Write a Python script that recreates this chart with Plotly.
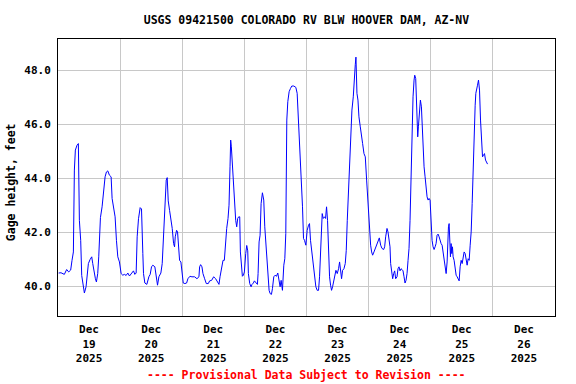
import pandas as pd
import plotly.graph_objects as go

TITLE = "USGS 09421500 COLORADO RV BLW HOOVER DAM, AZ-NV"
Y_TITLE = "Gage height, feet"
FOOTER = "---- Provisional Data Subject to Revision ----"
START = "2025-12-19 00:00"
END = "2025-12-27 00:00"

# hours since 2025-12-19 00:00 (MST)
hours = [
    0.25, 1.16, 2.45, 3.35, 4.13, 4.9, 5.42, 5.94, 6.32, 6.71, 7.35, 7.87, 8.26, 8.77, 9.16,
    9.81, 10.19, 10.84, 11.35, 11.74, 12.39, 13.03, 13.42, 13.94, 14.45, 14.84, 15.35, 15.74,
    16.39, 17.03, 17.55, 18.19, 18.71, 19.23, 19.87, 20.52, 20.9, 21.42, 22.06, 22.58, 23.1,
    23.74, 24.39, 25.03, 25.68, 26.32, 26.97, 27.61, 28.39, 29.16, 29.68, 30.19, 30.58, 31.1,
    31.74, 32.26, 32.77, 33.03, 33.55, 34.32, 35.1, 35.61, 36.13, 36.64, 37.42, 37.94, 38.45,
    38.97, 39.74, 40.26, 40.77, 41.29, 41.81, 42.19, 42.58, 43.1, 43.61, 44.13, 44.65, 45.03,
    45.29, 45.81, 46.19, 46.58, 46.97, 47.48, 47.87, 48.39, 49.03, 49.68, 50.19, 50.97, 51.74,
    52.77, 53.68, 54.45, 54.71, 55.1, 55.61, 56.0, 56.65, 57.29, 58.06, 58.58, 59.35, 60.13,
    60.9, 61.68, 62.19,
    62.59, 63.23, 63.75, 64.26, 64.65, 65.17, 65.68, 66.07, 66.46, 66.71, 66.97, 67.23, 67.62,
    68.13, 68.65, 69.04, 69.42, 69.81, 70.2, 70.46, 70.84, 71.23, 71.62, 72.0, 72.52, 72.91,
    73.3, 73.55, 74.07, 74.59, 74.97, 75.49, 75.88, 76.39, 77.04, 77.3, 77.68, 78.07, 78.46,
    78.97, 79.49, 79.88, 80.26, 80.78, 81.17, 81.55, 81.94, 82.46, 82.84, 83.36, 83.88, 84.39,
    84.91, 85.42, 85.81, 86.2, 86.71, 87.23, 87.62, 88.0, 88.39, 88.78, 89.29, 89.81, 90.33,
    91.1, 91.88, 92.39, 92.91, 93.42, 93.94, 94.46, 94.84, 95.23, 95.75, 96.26, 96.78, 97.16,
    97.55, 98.07, 98.58, 99.1, 99.62, 100.13, 100.65, 101.04, 101.42, 101.68, 102.07, 102.46,
    102.97, 103.36, 103.75, 104.13, 104.52, 104.91, 105.3, 105.68, 106.07, 106.46, 106.84,
    107.36, 107.88, 108.39, 108.78, 109.17, 109.55, 109.94, 110.46, 110.97, 111.36, 111.75,
    112.26, 112.78, 113.17, 113.55, 114.07, 114.46, 114.84, 115.1, 115.3, 115.49, 115.88,
    116.26, 116.78, 117.17, 117.68, 118.2, 118.71, 119.23, 119.62, 120.0, 120.39, 120.78,
    121.16, 121.55, 122.07, 122.59, 123.1, 123.62, 124.13, 124.65,
    125.16, 125.81, 126.19, 126.58, 127.1, 127.48, 127.87, 128.26, 128.51, 128.9, 129.29,
    129.68, 130.06, 130.45, 130.97, 131.35, 131.74, 132.13, 132.52, 132.9, 133.29, 133.68,
    134.06, 134.45, 134.84, 135.23, 135.61, 136.0, 136.39, 136.64, 136.9, 137.16, 137.55,
    137.81, 138.19, 138.45, 138.71, 138.97, 139.23, 139.61, 140.0, 140.39, 140.64, 141.03,
    141.42, 141.81, 142.19, 142.58, 142.97, 143.35, 143.74, 144.13, 144.51, 144.9, 145.29,
    145.68, 146.06, 146.45, 146.84, 147.23, 147.61, 148.0, 148.39, 148.77, 149.16, 149.55,
    149.94, 150.32, 150.58, 150.84, 151.1, 151.35, 151.61, 151.87, 152.13, 152.39, 152.64,
    153.03, 153.42, 153.81, 154.19, 154.58, 154.97, 155.35, 155.74, 156.13, 156.52, 156.9,
    157.29, 157.68, 158.06, 158.45, 158.84, 159.23, 159.61, 160.0, 160.39, 160.64, 160.9,
    161.16, 161.42, 161.68, 162.06, 162.45, 162.84, 163.23, 163.61, 164.0, 164.39, 164.77,
    165.16, 165.55, 165.94,
]

gage_ft = [
    40.49, 40.5, 40.44, 40.62, 40.53, 40.6, 40.96, 41.27, 44.3, 45.04, 45.22, 45.28, 42.44, 41.7, 40.4,
    40.04, 39.75, 39.98, 40.35, 40.84, 40.99, 41.09, 40.84, 40.47, 40.28, 40.16, 40.47, 41.09,
    42.54, 42.94, 43.56, 44.05, 44.23, 44.27, 44.11, 44.05, 43.25, 42.94, 42.57, 41.7, 41.09,
    40.9, 40.47, 40.41, 40.44, 40.4, 40.49, 40.38, 40.49, 40.57, 40.44, 40.49, 41.83, 42.5,
    42.91, 42.86, 41.21, 40.47, 40.12, 40.07, 40.35, 40.44, 40.72, 40.78, 40.72, 40.35, 40.04,
    40.35, 40.49, 40.84, 41.83, 43.06, 43.93, 44.02, 43.16, 42.81, 42.5, 42.14, 41.58, 41.46,
    41.83, 42.07, 42.01, 41.21, 40.96, 40.9, 40.62, 40.12, 40.1, 40.12, 40.28, 40.37, 40.35,
    40.35, 40.28, 40.35, 40.72, 40.8, 40.72, 40.47, 40.28, 40.1, 40.1, 40.2, 40.22, 40.35,
    40.28, 40.16, 40.07,
    40.35, 40.72, 40.96, 40.96, 41.7, 42.14, 42.51, 43.0, 44.42, 45.41, 45.16, 44.67, 44.05,
    43.19, 42.44, 42.2, 42.51, 42.57, 42.57, 41.27, 40.72, 40.37, 40.41, 40.53, 41.21, 41.51,
    41.31, 40.47, 40.1, 39.98, 40.07, 40.12, 40.2, 40.12, 40.07, 40.47, 41.64, 41.89, 43.06,
    43.46, 43.19, 42.2, 41.64, 40.96, 40.22, 39.85, 39.73, 39.7, 39.91, 40.35, 40.41, 40.37,
    40.49, 40.2, 39.98, 40.22, 39.85, 40.78, 41.02, 41.95, 46.15, 46.83, 47.2, 47.32, 47.41,
    47.41, 47.36, 47.14, 46.15, 45.16, 43.68, 42.94, 41.77, 41.7, 41.52, 42.07, 42.26, 42.32,
    41.7, 41.21, 40.72, 40.28, 39.98, 39.85, 39.85, 40.35, 41.21, 42.32, 42.69, 42.51,
    42.57, 42.51, 42.94, 42.44, 40.96, 40.35, 40.04, 39.85, 39.98, 40.16, 40.35,
    40.59, 40.47, 40.65, 40.9, 40.47, 40.28, 40.59, 40.65, 40.84, 41.33, 42.44,
    43.8, 45.16, 45.65, 46.52, 47.01, 47.88, 48.2, 48.48, 47.9, 47.14, 46.89,
    46.27, 45.9, 45.53, 45.28, 44.91, 44.79, 43.93, 43.19, 42.69, 41.95, 41.52,
    41.27, 41.15, 41.27, 41.4, 41.52, 41.7, 41.79, 41.52,
    41.4, 41.36, 41.46, 41.83, 42.14, 42.01, 41.7, 41.46, 40.84, 40.53, 40.28,
    40.47, 40.57, 40.28, 40.35, 40.65, 40.72, 40.57, 40.65, 40.62, 40.57, 40.35,
    40.12, 40.22, 40.47, 40.96, 41.4, 42.44, 44.3, 45.41, 46.02, 47.01, 47.63,
    47.81, 47.69, 46.77, 45.72, 45.53, 45.9, 46.64, 46.89, 46.64, 45.9, 45.16,
    44.42, 44.05, 43.49, 43.31, 43.19, 43.25, 43.19, 42.32, 41.7, 41.46, 41.36,
    41.46, 41.58, 41.89, 41.93, 41.83, 41.64, 41.58, 41.52, 41.27, 40.96, 40.59,
    40.47, 40.9, 41.83, 42.2, 42.32, 41.58, 41.09, 41.58, 41.21, 41.46, 41.09,
    40.96, 40.65, 40.41, 40.35, 40.28, 40.2, 40.72, 40.96, 40.84, 41.09, 41.27,
    41.21, 40.96, 40.78, 41.02, 40.96, 41.52, 42.01, 43.06, 44.3, 45.72, 46.33,
    46.7, 47.14, 47.32, 47.44, 47.63, 47.26, 46.15, 45.16, 44.79, 44.85, 44.91,
    44.67, 44.57, 44.52,
]

y_ticks = [40, 42, 44, 46, 48]

times = pd.Timestamp(START) + pd.to_timedelta(hours, unit="h")

FONT = "DejaVu Sans Mono"

fig = go.Figure()
fig.add_trace(go.Scatter(
    x=times, y=gage_ft, mode="lines",
    line=dict(color="#0000ff", width=1),
    hoverinfo="x+y", showlegend=False,
))

fig.update_layout(
    width=576, height=384,
    margin=dict(l=58, r=21, t=39, b=68),
    paper_bgcolor="white", plot_bgcolor="white",
    font=dict(family=FONT, size=11, color="black", weight="bold"),
    title=dict(text=TITLE, x=0.532, xanchor="center", y=0.948, yanchor="middle",
               font=dict(family=FONT, size=11.5, color="black", weight="bold")),
    annotations=[
        dict(text=Y_TITLE, xref="paper", yref="paper", x=-0.094, y=0.484,
             xanchor="center", yanchor="middle", textangle=-90, showarrow=False,
             font=dict(family=FONT, size=11.5, color="black", weight="bold")),
        dict(text=FOOTER, xref="paper", yref="paper", x=0.5, y=-0.213,
             xanchor="center", yanchor="middle", showarrow=False,
             font=dict(family=FONT, size=11.5, color="#ff0000", weight="bold")),
    ],
)

fig.update_xaxes(
    range=[START, END], type="date",
    tick0=START, dtick=86400000, ticklabelmode="period",
    tickformat="%b<br>%d<br>%Y", ticks="", ticklabelstandoff=3,
    showgrid=True, gridcolor="#c8c8c8", gridwidth=1,
    showline=True, linecolor="black", linewidth=1, mirror=True,
    zeroline=False, tickfont=dict(family=FONT, size=11, color="black", weight="bold"),
)
fig.update_yaxes(
    range=[38.9, 49.15], tickvals=y_ticks, tickformat=".1f", ticks="",
    ticklabelstandoff=4,
    showgrid=True, gridcolor="#c8c8c8", gridwidth=1,
    showline=True, linecolor="black", linewidth=1, mirror=True,
    zeroline=False, tickfont=dict(family=FONT, size=11, color="black", weight="bold"),
)

fig.write_html("out.html", config={"displayModeBar": False},
               post_script="document.body.style.margin='0px';")
